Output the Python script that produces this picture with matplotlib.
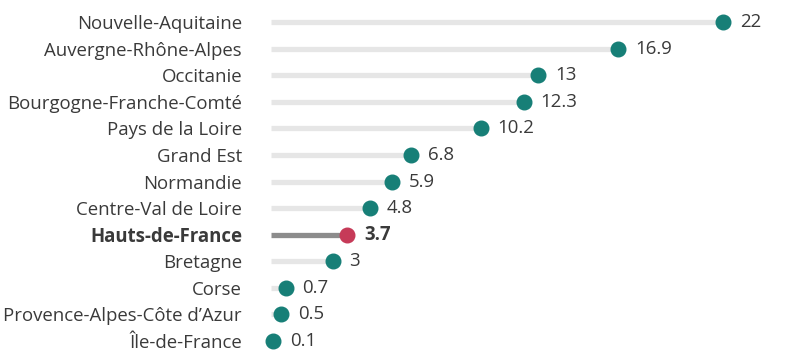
import matplotlib.pyplot as plt

regions = ['Nouvelle-Aquitaine', 'Auvergne-Rhône-Alpes', 'Occitanie',
           'Bourgogne-Franche-Comté', 'Pays de la Loire', 'Grand Est',
           'Normandie', 'Centre-Val de Loire', 'Hauts-de-France', 'Bretagne',
           'Corse', 'Provence-Alpes-Côte d’Azur', 'Île-de-France']
values = [22, 16.9, 13, 12.3, 10.2, 6.8, 5.9, 4.8, 3.7, 3, 0.7, 0.5, 0.1]
labels = ['22', '16.9', '13', '12.3', '10.2', '6.8', '5.9', '4.8', '3.7', '3',
          '0.7', '0.5', '0.1']
highlight = 'Hauts-de-France'

plt.rcParams['font.family'] = ['Open Sans', 'DejaVu Sans']

fig = plt.figure(figsize=(8, 3.63), dpi=100)
ax = fig.add_axes([0.339, 0.024, 0.65, 0.952])

text_col = '#3a3a3a'
for i, (name, v, lab) in enumerate(zip(regions, values, labels)):
    hl = name == highlight
    ax.plot([0, v], [i, i], color='#8c8c8c' if hl else '#e6e6e6',
            lw=3.8, solid_capstyle='butt', zorder=1)
    ax.plot(v, i, 'o', color='#c63a58' if hl else '#177f77',
            markersize=10.5, zorder=2, clip_on=False)
    ax.annotate(lab, (v, i), xytext=(12, 0), textcoords='offset points',
                va='center', ha='left', fontsize=13.4, color=text_col,
                fontweight='bold' if hl else 'normal')

ax.set_xlim(0, 520 / 20.55)
ax.set_ylim(12.5, -0.5)
ax.set_yticks(range(len(regions)))
ax.set_yticklabels(regions, fontsize=13.4, color=text_col)
for t in ax.get_yticklabels():
    if t.get_text() == highlight:
        t.set_fontweight('bold')
ax.tick_params(axis='y', length=0, pad=21)
ax.set_xticks([])
for s in ax.spines.values():
    s.set_visible(False)

fig.savefig('out.png', dpi=100)
